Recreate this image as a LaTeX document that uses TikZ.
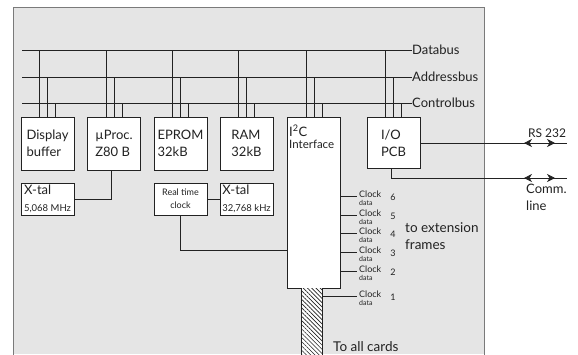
\documentclass[tikz,border=0pt]{standalone}
\usepackage{fontspec}
\setmainfont{Lato}
\usetikzlibrary{arrows.meta,patterns.meta,calc}
\definecolor{panelfill}{HTML}{E5E5E5}
\definecolor{panelline}{HTML}{7A7A7A}
\definecolor{ink}{HTML}{222222}
\begin{document}
\begin{tikzpicture}[x=1pt,y=-1pt,
  every node/.style={text=ink},
  wire/.style={draw=ink, line width=0.7pt},
  blk/.style={draw=ink, fill=white, line width=0.8pt, minimum width=53pt, minimum height=53pt, inner sep=0pt, align=left, font=\fontsize{13}{17}\selectfont},
  xtal/.style={blk, minimum height=32pt},
  lbl/.style={inner sep=0pt, font=\fontsize{13}{17}\selectfont, align=left},
  clk/.style={inner sep=0pt, align=left, font=\fontsize{9}{7.5}\selectfont},
  clknum/.style={inner sep=0pt, font=\fontsize{9}{9}\selectfont},
  biarrow/.style={wire, {Stealth[length=8pt,width=8pt,inset=2.5pt]}-{Stealth[length=8pt,width=8pt,inset=2.5pt]}}
]
\useasboundingbox (0,0) rectangle (578,354);
\fill[panelfill] (13,7) rectangle (484,354);
\draw[panelline, line width=0.9pt] (13,356) -- (13,7) -- (484,7) -- (484,356);

% buses
\node[lbl, anchor=west] (dbus) at (412,50) {Databus};
\node[lbl, anchor=west] (abus) at (412,77) {Addressbus};
\node[lbl, anchor=west] (cbus) at (412,103) {Controlbus};
\coordinate (dstart) at (22,50);
\coordinate (astart) at (22,77);
\coordinate (cstart) at (22,103);
\draw[wire] (dstart) -- (dbus.west);
\draw[wire] (astart) -- (abus.west);
\draw[wire] (cstart) -- (cbus.west);

% boxes
\node[blk] (disp) at (47.5,143.5) {Display\\buffer};
\node[blk] (proc) at (114,143.5) {µProc.\\Z80 B};
\node[blk] (eprom) at (180.5,143.5) {EPROM\\32kB};
\node[blk] (ram) at (246.5,143.5) {RAM\\32kB};
\node[blk, minimum height=171pt] (iic) at (314,202.5) {};
\node[blk, minimum height=51pt] (io) at (393.5,143) {I/O\\PCB};
\node[anchor=north west, inner sep=0pt, align=left] (iiclbl) at (289,125)
  {{\fontsize{13}{20}\selectfont I\textsuperscript{2}C}\\{\fontsize{11.5}{20}\selectfont Interface}};

% bus taps
\foreach \b in {disp,proc,eprom,ram,iic,io} {
  \path ([xshift=19pt]\b.north west) coordinate (t1)
        ([xshift=27pt]\b.north west) coordinate (t2)
        ([xshift=35pt]\b.north west) coordinate (t3);
  \draw[wire] (t1) -- (t1 |- dbus.west);
  \draw[wire] (t2) -- (t2 |- abus.west);
  \draw[wire] (t3) -- (t3 |- cbus.west);
}

% crystals and clock
\node[xtal] (xtal1) at (47.5,199) {{\fontsize{13}{13}\selectfont X-tal}\\{\fontsize{9.5}{13}\selectfont 5,068 MHz}};
\node[xtal, align=center, font=\fontsize{9}{13}\selectfont] (rtc) at (180.5,199) {Real time\\clock};
\node[xtal] (xtal2) at (246.5,199) {{\fontsize{13}{13}\selectfont X-tal}\\{\fontsize{9.5}{13}\selectfont 32,768 kHz}};
\draw[wire] ([xshift=-3pt]proc.south) |- (xtal1.east);
\draw[wire] (rtc.east) -- (xtal2.west);
\draw[wire] (rtc.south) |- ([yshift=-47.5pt]iic.west);

% card bus
\node[minimum width=20pt, minimum height=68pt, inner sep=0pt, anchor=north,
  preaction={fill=white}, pattern={Lines[angle=-45,distance=3pt,line width=0.6pt]}, pattern color=ink]
  (cbar) at (312,288) {};
\draw[wire] (cbar.north west) -- (cbar.south west) (cbar.north east) -- (cbar.south east);

% clock data outputs
\foreach \y/\n in {196/6,215/5,233/4,252/3,271/2} {
  \coordinate (ct\n) at (357,\y);
  \draw[wire] (ct\n -| iic.east) -- (ct\n);
  \node[clk, anchor=north west] (cl\n) at (359,\y-5) {Clock\\{\fontsize{7}{7.5}\selectfont data}};
  \node[clknum] (cn\n) at (393,\y+1.5) {\n};
}
\coordinate (ct1) at (357,296);
\draw[wire] (ct1 -| cbar.east) -- (ct1);
\node[clk, anchor=north west] (cl1) at (359,291) {Clock\\{\fontsize{7}{7.5}\selectfont data}};
\node[clknum] (cn1) at (393,297.5) {1};

\node[lbl, anchor=west, font=\fontsize{13.5}{17}\selectfont] (ext) at (405,236) {to extension\\frames};
\node[lbl, anchor=base west, font=\fontsize{13.5}{17}\selectfont] (allc) at (333,351) {To all cards};

% external lines
\coordinate (rsend) at (567,143);
\coordinate (rsa) at (524,143);
\coordinate (rsb) at (555,143);
\draw[wire] (io.east) -- (rsend);
\draw[biarrow] (rsa) -- (rsb);
\node[lbl, anchor=base, font=\fontsize{12}{17}\selectfont] (rs) at (547,137) {RS 232};
\coordinate (cmend) at (567,178);
\coordinate (cma) at (524,178);
\coordinate (cmb) at (555,178);
\draw[wire] ([xshift=-2.5pt]io.south) |- (cmend);
\draw[biarrow] (cma) -- (cmb);
\node[lbl, anchor=north west] (comm) at (526,184) {Comm.\\line};
\end{tikzpicture}
\end{document}
